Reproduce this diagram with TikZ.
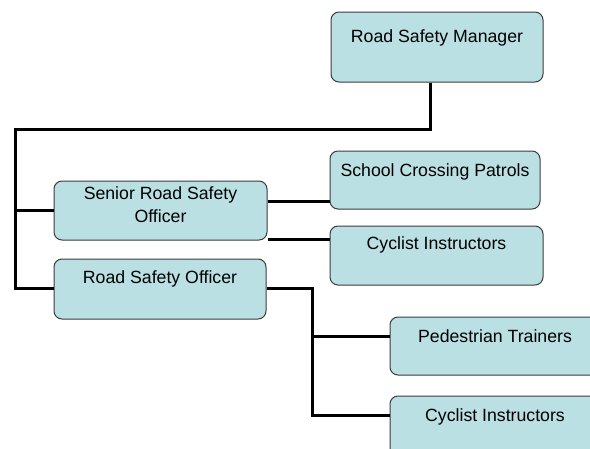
\documentclass[tikz,border=0pt]{standalone}
\usepackage{fontspec}
\setmainfont{Liberation Sans}
\definecolor{boxfill}{HTML}{BAE0E3}
\definecolor{boxline}{HTML}{3C3C3C}
\begin{document}
\begin{tikzpicture}[x=1pt,y=-1pt,
  box/.style={draw=boxline,line width=1pt,fill=boxfill,rounded corners=8pt,inner sep=0pt,shape=rectangle},
  txt/.style={anchor=base,inner sep=0pt,align=center,font=\fontsize{17.7}{23}\selectfont},
  conn/.style={draw=black,line width=3pt,line join=miter}]
\useasboundingbox (0,0) rectangle (590,448);
\clip (0,0) rectangle (590,448);
\fill[white] (0,0) rectangle (590,448);
% boxes
\node[box,minimum width=212pt,minimum height=70pt] (mgr) at (437,47) {};
\node[box,minimum width=210pt,minimum height=58pt] (school) at (435,180) {};
\node[box,minimum width=213pt,minimum height=59pt] (cyc1) at (436.5,255.5) {};
\node[box,minimum width=213pt,minimum height=59pt] (senior) at (160.5,210.5) {};
\node[box,minimum width=212pt,minimum height=60pt] (rso) at (160,289) {};
\node[box,minimum width=210pt,minimum height=58pt] (ped) at (495,346) {};
\node[box,minimum width=210pt,minimum height=60pt] (cyc2) at (495,426) {};
% texts
\node[txt] (mgrT) at (437,42) {Road Safety Manager};
\node[txt] (schoolT) at (435,176) {School Crossing Patrols};
\node[txt] (cyc1T) at (436.5,249) {Cyclist Instructors};
\node[txt,anchor=north] (seniorT) at (160.5,186) {Senior Road Safety\\Officer};
\node[txt] (rsoT) at (160,283) {Road Safety Officer};
\node[txt] (pedT) at (495,342) {Pedestrian Trainers};
\node[txt] (cyc2T) at (495,421.5) {Cyclist Instructors};
% junctions
\coordinate (j1) at (430,129);
\coordinate (j2) at (15,129);
\coordinate (j3) at (312,288);
% connectors
\draw[conn] (mgr.south -| j1) -- (j1) -- (j2) |- ([yshift=1pt]rso.west);
\draw[conn] (j2 |- senior.west) -- (senior.west);
\draw[conn] ([yshift=9.5pt]senior.east) -- ([yshift=9.5pt]senior.east -| school.west);
\draw[conn] ([yshift=-28.5pt]senior.east) -- ([yshift=-28.5pt]senior.east -| cyc1.west);
\draw[conn] ([yshift=1pt]rso.east) -| (j3) |- ([yshift=11pt]cyc2.west);
\draw[conn] ([yshift=10pt]ped.west -| j3) -- ([yshift=10pt]ped.west);
\end{tikzpicture}
\end{document}
